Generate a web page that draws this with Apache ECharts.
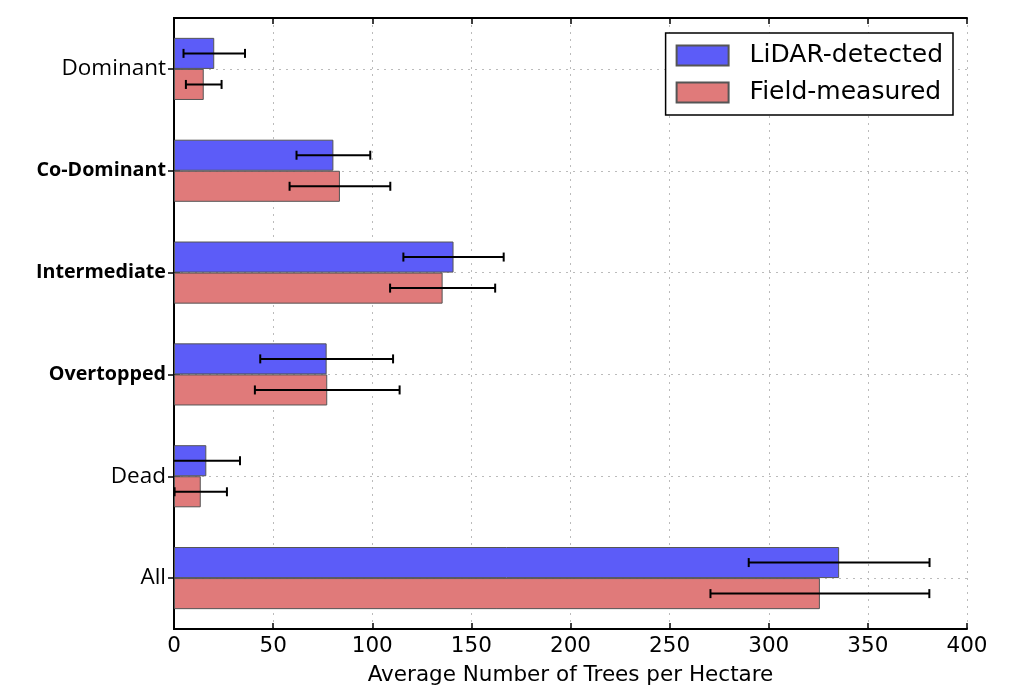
<!DOCTYPE html>
<html>
<head>
<meta charset="utf-8">
<script src="https://cdn.jsdelivr.net/npm/echarts@6/dist/echarts.min.js"></script>
<style>
html,body{margin:0;padding:0;background:#fff;}
#chart{width:1034px;height:687px;}
</style>
</head>
<body>
<div id="chart"></div>
<script>
const categories = ['Dominant', 'Co-Dominant', 'Intermediate', 'Overtopped', 'Dead', 'All'];
const boldCategories = ['Co-Dominant', 'Intermediate', 'Overtopped'];
const lidarValues = [20.3, 80.4, 141, 77, 16.3, 335.5];
const lidarErrors = [15.5, 18.6, 25.3, 33.5, 17, 45.6];
const fieldValues = [15, 83.7, 135.5, 77.3, 13.5, 325.8];
const fieldErrors = [9, 25.4, 26.5, 36.5, 13.2, 55.2];
const xTicks = [0, 50, 100, 150, 200, 250, 300, 350, 400];

const GAP_RATIO = 0.39;
const chart = echarts.init(document.getElementById('chart'));

function errorSeries(values, errors, side) {
  return {
    type: 'custom',
    z: 10,
    clip: true,
    encode: { x: 0, y: 1 },
    data: values.map((v, i) => [v, i, errors[i]]),
    renderItem: function (params, api) {
      const v = api.value(0), idx = api.value(1), e = api.value(2);
      const c = api.coord([v, idx]);
      const band = api.size([0, 1])[1];
      const barW = band * (1 - GAP_RATIO) / 2;
      const y = c[1] + side * barW / 2;
      const lo = api.coord([v - e, idx])[0];
      const hi = api.coord([v + e, idx])[0];
      const cap = 4.5;
      const st = { stroke: '#000', lineWidth: 2 };
      return {
        type: 'group',
        children: [
          { type: 'line', shape: { x1: lo, y1: y, x2: hi, y2: y }, style: st },
          { type: 'line', shape: { x1: lo, y1: y - cap, x2: lo, y2: y + cap }, style: st },
          { type: 'line', shape: { x1: hi, y1: y - cap, x2: hi, y2: y + cap }, style: st }
        ]
      };
    }
  };
}

const option = {
  animation: false,
  backgroundColor: '#fff',
  grid: { left: 174, right: 67, top: 18, bottom: 58, containLabel: false, outerBoundsMode: 'none' },
  legend: {
    orient: 'vertical',
    right: 81,
    top: 33,
    data: ['LiDAR-detected', 'Field-measured'],
    icon: 'rect',
    itemWidth: 52,
    itemHeight: 20,
    itemGap: 12,
    padding: [10, 10, 10, 10],
    borderColor: '#000',
    borderWidth: 1.5,
    borderRadius: 0,
    backgroundColor: '#fff',
    textStyle: { fontFamily: 'DejaVu Sans', fontSize: 25, color: '#000', padding: [0, 0, 0, 16] }
  },
  xAxis: [
    {
      type: 'value', min: 0, max: 400, interval: 50, position: 'bottom',
      name: 'Average Number of Trees per Hectare', nameLocation: 'middle', nameGap: 35,
      nameTextStyle: { fontFamily: 'DejaVu Sans', fontSize: 21.5, color: '#000' },
      axisLine: { show: true, lineStyle: { color: '#000', width: 2 } },
      axisTick: { show: true, inside: true, length: 6, lineStyle: { color: '#000', width: 1.5 } },
      axisLabel: { fontFamily: 'DejaVu Sans', fontSize: 21.5, color: '#000', margin: 6,
        formatter: v => xTicks.includes(v) ? String(v) : '' },
      splitLine: { show: true, lineStyle: { color: '#bbbbbb', type: [2, 5], width: 1 } }
    },
    {
      type: 'value', min: 0, max: 400, interval: 50, position: 'top',
      axisLine: { show: true, lineStyle: { color: '#000', width: 2 } },
      axisTick: { show: true, inside: true, length: 6, lineStyle: { color: '#000', width: 1.5 } },
      axisLabel: { show: false },
      splitLine: { show: false }
    }
  ],
  yAxis: [
    {
      type: 'category', data: categories, inverse: true, position: 'left',
      axisLine: { show: true, lineStyle: { color: '#000', width: 2 } },
      axisTick: { show: true, inside: true, alignWithLabel: true, length: 6, lineStyle: { color: '#000', width: 1.5 } },
      axisLabel: {
        margin: 8, color: '#000',
        formatter: v => boldCategories.includes(v) ? '{b|' + v + '}' : '{n|' + v + '}',
        rich: {
          b: { fontFamily: 'Open Sans', fontSize: 19.7, fontWeight: 'bold', color: '#000' },
          n: { fontFamily: 'Open Sans', fontSize: 22.5, color: '#000' }
        }
      },
      splitLine: { show: true, alignWithLabel: true, lineStyle: { color: '#bbbbbb', type: [2, 5], width: 1 } }
    },
    {
      type: 'category', data: categories, inverse: true, position: 'right',
      axisLine: { show: true, lineStyle: { color: '#000', width: 2 } },
      axisTick: { show: true, inside: true, alignWithLabel: true, length: 6, lineStyle: { color: '#000', width: 1.5 } },
      axisLabel: { show: false },
      splitLine: { show: false }
    }
  ],
  series: [
    {
      name: 'LiDAR-detected', type: 'bar', data: lidarValues,
      barGap: '0%', barCategoryGap: (GAP_RATIO * 100) + '%',
      itemStyle: { color: '#5c5cf8', borderColor: '#555', borderWidth: 1 }
    },
    {
      name: 'Field-measured', type: 'bar', data: fieldValues,
      barGap: '0%', barCategoryGap: (GAP_RATIO * 100) + '%',
      itemStyle: { color: '#e07a7a', borderColor: '#555', borderWidth: 1 }
    },
    errorSeries(lidarValues, lidarErrors, -1),
    errorSeries(fieldValues, fieldErrors, 1)
  ]
};
chart.setOption(option);
</script>
</body>
</html>
